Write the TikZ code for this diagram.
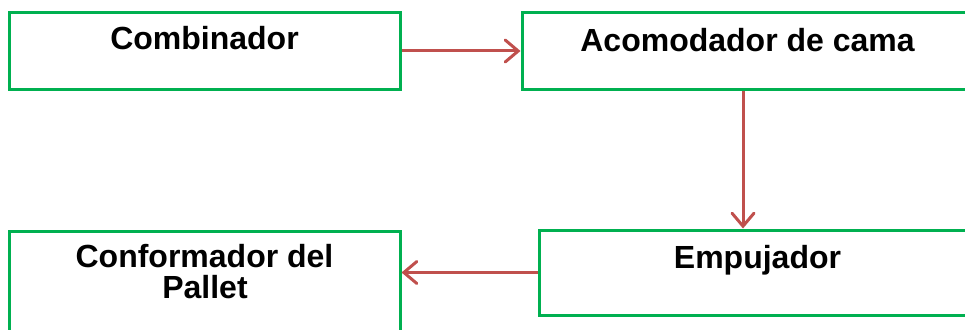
\documentclass[tikz,border=0pt]{standalone}
\usepackage{fontspec}
\setmainfont{Liberation Sans}
\usetikzlibrary{arrows.meta}
\definecolor{boxgreen}{HTML}{00B050}
\definecolor{flowred}{HTML}{C0504D}
\tikzset{
  stage/.style={draw=boxgreen, line width=3pt, fill=white, rectangle, inner sep=0pt},
  caption/.style={font=\bfseries\fontsize{32}{33}\selectfont, inner sep=0pt, anchor=base},
  flow/.style={draw=flowred, line width=3pt, -{Straight Barb[length=13pt,width=22pt,line cap=round]}}
}
\begin{document}
\begin{tikzpicture}[x=1pt,y=1pt]
  \useasboundingbox (0,0) rectangle (965,-329);
  \clip (0,0) rectangle (965,-329);
  % process stages
  \node[stage, minimum width=391pt, minimum height=76pt] (comb) at (204.5,-51) {};
  \node[stage, minimum width=451pt, minimum height=76pt] (acom) at (747.5,-51) {};
  \node[stage, minimum width=437pt, minimum height=85pt] (emp) at (757.5,-272.5) {};
  \node[stage, minimum width=391pt, minimum height=109pt] (conf) at (204.5,-285.5) {};
  % stage names
  \node[caption] (combT) at (204.5,-49) {Combinador};
  \node[caption] (acomT) at (747.5,-51.5) {Acomodador de cama};
  \node[caption] (empT) at (757.5,-268) {Empujador};
  \node[caption] (confT1) at (204.5,-267) {Conformador del};
  \node[caption] (confT2) at (205,-298) {Pallet};
  % flow between stages
  \coordinate (drop) at (743,0);
  \draw[flow] (comb.east) -- (acom.west);
  \draw[flow] (acom.south -| drop) -- (emp.north -| drop);
  \draw[flow] (emp.west) -- (conf.east |- emp.west);
\end{tikzpicture}
\end{document}
